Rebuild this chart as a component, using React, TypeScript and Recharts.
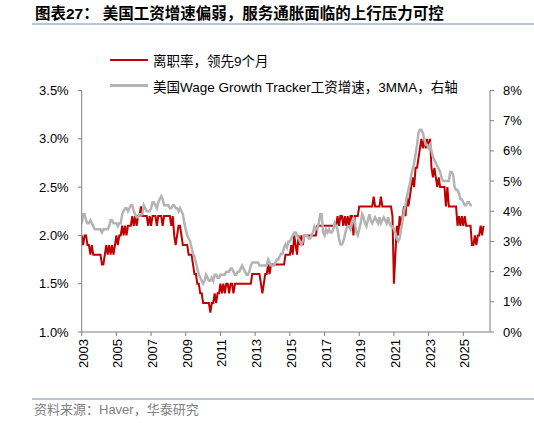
import { LineChart, Line, XAxis, YAxis } from "recharts";

// monthly, first point = Jan 2003
const START_YEAR = 2003;

// quit rate (%), shifted forward 9 months, left axis
const quitRateLead9m: number[] = [
  2.0, 1.9, 2.0, 2.0, 1.9, 1.9, 1.8, 1.9, 1.8, 1.8, 1.8, 1.8, // 2003
  1.8, 1.8, 1.7, 1.7, 1.8, 1.9, 1.8, 1.9, 1.8, 1.9, 1.8, 1.9, // 2004
  2.0, 1.9, 2.0, 2.0, 2.1, 2.0, 2.1, 2.0, 2.1, 2.1, 2.1, 2.2, // 2005
  2.1, 2.2, 2.1, 2.2, 2.2, 2.3, 2.2, 2.2, 2.2, 2.2, 2.1, 2.2, // 2006
  2.1, 2.2, 2.2, 2.2, 2.1, 2.2, 2.2, 2.2, 2.1, 2.2, 2.2, 2.2, // 2007
  2.2, 2.2, 2.1, 2.2, 2.0, 1.9, 2.0, 2.1, 2.1, 2.0, 1.9, 1.9, // 2008
  1.9, 1.9, 1.8, 1.8, 1.8, 1.7, 1.6, 1.6, 1.5, 1.5, 1.4, 1.4, // 2009
  1.3, 1.3, 1.3, 1.3, 1.3, 1.2, 1.3, 1.3, 1.4, 1.3, 1.4, 1.4, // 2010
  1.5, 1.4, 1.5, 1.4, 1.5, 1.5, 1.4, 1.5, 1.5, 1.4, 1.5, 1.5, // 2011
  1.5, 1.5, 1.5, 1.5, 1.5, 1.5, 1.5, 1.5, 1.5, 1.5, 1.6, 1.6, // 2012
  1.6, 1.6, 1.6, 1.6, 1.5, 1.4, 1.5, 1.6, 1.6, 1.7, 1.6, 1.7, // 2013
  1.7, 1.7, 1.7, 1.7, 1.7, 1.7, 1.7, 1.7, 1.7, 1.8, 1.8, 1.8, // 2014
  1.8, 1.9, 1.8, 2.0, 1.9, 1.8, 2.0, 1.9, 2.0, 1.9, 2.0, 2.0, // 2015
  2.0, 2.0, 2.0, 2.0, 2.0, 2.0, 2.0, 2.1, 2.1, 2.1, 2.1, 2.1, // 2016
  2.1, 2.1, 2.1, 2.1, 2.1, 2.1, 2.1, 2.1, 2.1, 2.2, 2.1, 2.2, // 2017
  2.2, 2.1, 2.2, 2.1, 2.2, 2.1, 2.2, 2.2, 2.0, 2.2, 2.2, 2.2, // 2018
  2.3, 2.3, 2.3, 2.3, 2.3, 2.3, 2.3, 2.3, 2.3, 2.3, 2.4, 2.3, // 2019
  2.3, 2.3, 2.3, 2.4, 2.3, 2.3, 2.3, 2.3, 2.3, 2.3, 2.3, 2.2, // 2020
  1.5, 1.8, 2.1, 2.0, 2.2, 2.1, 2.2, 2.3, 2.2, 2.4, 2.3, 2.4, // 2021
  2.5, 2.6, 2.5, 2.7, 2.7, 2.8, 2.9, 3.0, 2.9, 3.0, 2.9, 3.0, // 2022
  2.9, 3.0, 2.7, 2.6, 2.7, 2.6, 2.5, 2.6, 2.5, 2.5, 2.5, 2.5, // 2023
  2.3, 2.5, 2.3, 2.3, 2.3, 2.3, 2.3, 2.3, 2.1, 2.2, 2.1, 2.2, // 2024
  2.1, 2.2, 2.1, 2.1, 2.1, 2.1, 1.9, 1.9, 2.0, 1.9, 2.0, 2.0, // 2025
  2.1, 2.0, 2.1, // 2026
];

// Atlanta Fed wage growth tracker, 3MMA (%), right axis
const wageTracker3mma: number[] = [
  3.6, 3.9, 3.9, 3.7, 3.6, 3.6, 3.7, 3.6, 3.5, 3.4, 3.4, 3.4, // 2003
  3.4, 3.4, 3.3, 3.4, 3.4, 3.4, 3.4, 3.5, 3.7, 3.7, 3.6, 3.6, // 2004
  3.6, 3.5, 3.6, 3.6, 3.9, 4.0, 4.1, 4.1, 4.0, 4.1, 4.2, 4.2, // 2005
  4.0, 3.9, 3.8, 3.8, 3.9, 3.9, 3.9, 4.2, 4.1, 4.0, 4.0, 4.0, // 2006
  4.1, 4.3, 4.3, 4.2, 4.1, 4.3, 4.4, 4.5, 4.4, 4.2, 4.2, 4.2, // 2007
  4.2, 4.1, 4.1, 4.2, 4.2, 4.1, 4.1, 4.0, 4.1, 4.0, 3.9, 3.6, // 2008
  3.4, 3.2, 3.1, 3.0, 2.8, 2.6, 2.5, 2.3, 2.1, 1.9, 1.8, 1.7, // 2009
  1.6, 1.7, 1.9, 1.8, 1.7, 1.7, 1.8, 1.7, 1.9, 1.9, 1.8, 1.8, // 2010
  1.9, 1.9, 1.9, 1.9, 2.0, 2.0, 2.0, 2.1, 2.1, 2.0, 1.9, 1.9, // 2011
  2.0, 2.0, 2.1, 2.2, 2.1, 2.0, 1.9, 1.9, 2.0, 2.2, 2.3, 2.3, // 2012
  2.3, 2.3, 2.3, 2.2, 2.2, 2.2, 2.2, 2.2, 2.2, 2.4, 2.3, 2.2, // 2013
  2.2, 2.2, 2.3, 2.4, 2.4, 2.5, 2.6, 2.6, 2.8, 2.9, 2.8, 3.0, // 2014
  3.0, 3.1, 3.2, 3.3, 3.3, 3.2, 3.1, 3.0, 2.9, 3.0, 3.2, 3.2, // 2015
  3.2, 3.1, 3.1, 3.2, 3.3, 3.5, 3.4, 3.4, 3.6, 3.9, 3.9, 3.3, // 2016
  3.2, 3.4, 3.3, 3.4, 3.3, 3.3, 3.4, 3.6, 3.5, 3.4, 3.1, 2.9, // 2017
  2.9, 3.0, 3.2, 3.4, 3.5, 3.5, 3.4, 3.6, 3.8, 3.6, 3.3, 3.2, // 2018
  3.4, 3.6, 3.9, 3.8, 3.6, 3.5, 3.7, 3.9, 3.7, 3.6, 3.7, 3.8, // 2019
  3.7, 3.6, 3.8, 3.6, 3.7, 3.8, 3.7, 3.6, 3.8, 3.6, 3.5, 3.5, // 2020
  3.4, 3.3, 3.1, 3.0, 3.1, 3.4, 3.7, 4.0, 4.2, 4.5, 4.7, 4.9, // 2021
  5.2, 5.4, 5.6, 5.9, 6.2, 6.6, 6.7, 6.7, 6.6, 6.4, 6.2, 6.2, // 2022
  6.1, 6.2, 6.0, 5.8, 5.7, 5.6, 5.5, 5.4, 5.3, 5.1, 5.0, 5.0, // 2023
  5.0, 5.0, 5.0, 5.3, 5.3, 5.2, 4.8, 4.7, 4.7, 4.6, 4.4, 4.4, // 2024
  4.3, 4.2, 4.2, 4.3, 4.3, 4.2, 4.2, // 2025
];

const yearTicks = [2003, 2005, 2007, 2009, 2011, 2013, 2015, 2017, 2019, 2021, 2023, 2025];
const leftTicks = [1.0, 1.5, 2.0, 2.5, 3.0, 3.5];
const rightTicks = [0, 1, 2, 3, 4, 5, 6, 7, 8];

const quitLabel = "离职率，领先9个月";
const wageLabel = "美国Wage Growth Tracker工资增速，3MMA，右轴";

const RED = "#c00000";
const GRAY = "#b4b4b4";
const AXIS = "#7f7f7f";
const FONT = "'Liberation Sans', Arial, 'Noto Sans CJK SC', sans-serif";

const n = Math.max(quitRateLead9m.length, wageTracker3mma.length);
const data = Array.from({ length: n }, (_, i) => ({
  t: START_YEAR + i / 12,
  quit: quitRateLead9m[i],
  wage: wageTracker3mma[i],
}));

function YearTick({ x, y, payload }: any) {
  return (
    <g transform={`translate(${x},${y})`}>
      <text
        transform="rotate(-90)"
        textAnchor="end"
        dominantBaseline="central"
        x={0}
        y={1.5}
        fontSize={13}
        fontFamily={FONT}
        fill="#000"
      >
        {payload.value}
      </text>
    </g>
  );
}

export default function App() {
  return (
    <div
      style={{
        position: "fixed",
        left: 0,
        top: 0,
        width: 534,
        height: 423,
        background: "#fff",
        fontFamily: FONT,
      }}
    >
      <div
        style={{
          position: "absolute",
          left: 35,
          top: 4,
          fontSize: 15.5,
          fontWeight: 700,
          color: "#000",
          whiteSpace: "nowrap",
          lineHeight: "20px",
        }}
      >
        图表27：<span style={{ marginLeft: 4 }}>美国工资增速偏弱，服务通胀面临的上行压力可控</span>
      </div>
      <div style={{ position: "absolute", left: 32, top: 23, width: 502, height: 1.5, background: "#b8c4d6" }} />

      <LineChart
        width={534}
        height={423}
        data={data}
        margin={{ top: 90.5, right: 0, bottom: 31, left: 0 }}
      >
        <XAxis
          dataKey="t"
          type="number"
          domain={[2003, 2026.54]}
          ticks={yearTicks}
          interval={0}
          allowDataOverflow
          height={60}
          tick={<YearTick />}
          tickSize={4}
          tickMargin={3}
          stroke={AXIS}
          tickLine={{ stroke: AXIS }}
        />
        <YAxis
          yAxisId="left"
          domain={[1, 3.5]}
          ticks={leftTicks}
          interval={0}
          width={81.7}
          tickSize={4}
          tickMargin={9}
          tickFormatter={(v: number) => `${v.toFixed(1)}%`}
          tick={{ fontSize: 13, fill: "#000", fontFamily: FONT }}
          stroke={AXIS}
        />
        <YAxis
          yAxisId="right"
          orientation="right"
          domain={[0, 8]}
          ticks={rightTicks}
          interval={0}
          width={44}
          tickSize={4}
          tickMargin={9}
          tickFormatter={(v: number) => `${v}%`}
          tick={{ fontSize: 13, fill: "#000", fontFamily: FONT }}
          stroke={AXIS}
        />
        <Line
          yAxisId="left"
          dataKey="quit"
          stroke={RED}
          strokeWidth={2}
          dot={false}
          isAnimationActive={false}
          strokeLinejoin="miter"
        />
        <Line
          yAxisId="right"
          dataKey="wage"
          stroke={GRAY}
          strokeWidth={2.5}
          dot={false}
          isAnimationActive={false}
        />
      </LineChart>

      {[
        { label: quitLabel, color: RED, y: 60 },
        { label: wageLabel, color: GRAY, y: 85.5 },
      ].map((item) => (
        <div
          key={item.label}
          style={{
            position: "absolute",
            left: 110,
            top: item.y - 10,
            height: 20,
            display: "flex",
            alignItems: "center",
            whiteSpace: "nowrap",
            fontSize: 13.5,
            color: "#000",
          }}
        >
          <span style={{ display: "inline-block", width: 38, height: 2.5, background: item.color, marginRight: 5 }} />
          {item.label}
        </div>
      ))}

      <div style={{ position: "absolute", left: 32, top: 398, width: 502, height: 1.5, background: "#b8c4d6" }} />
      <div
        style={{
          position: "absolute",
          left: 34,
          top: 402,
          fontSize: 13,
          color: "#808080",
          whiteSpace: "nowrap",
          lineHeight: "16px",
        }}
      >
        资料来源：Haver，华泰研究
      </div>
    </div>
  );
}
